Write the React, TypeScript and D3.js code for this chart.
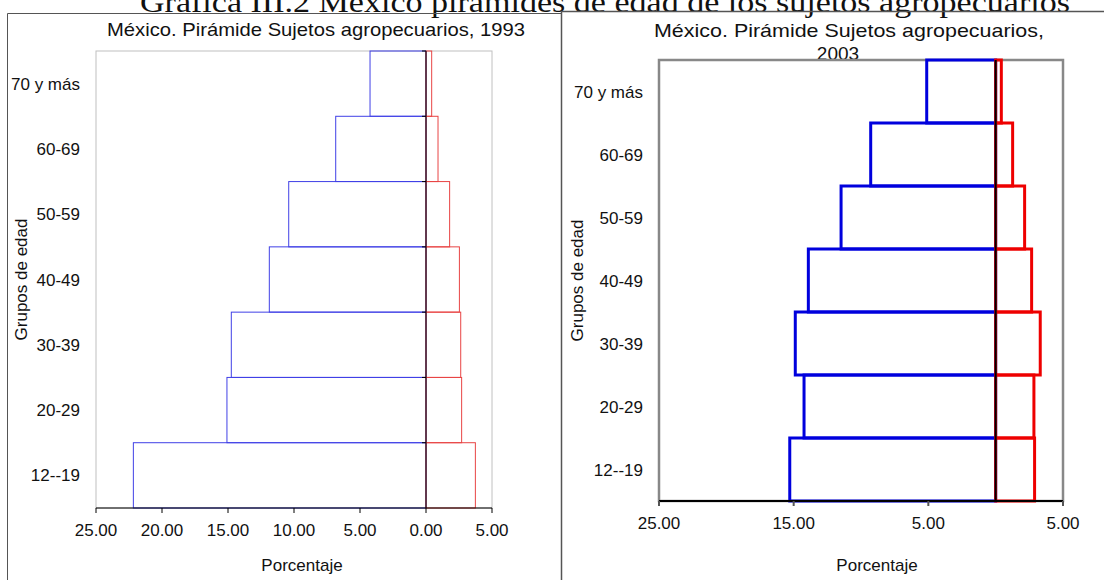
import React from "react";
import * as d3 from "d3";

const categories = ["12--19", "20-29", "30-39", "40-49", "50-59", "60-69", "70 y más"];
const hombres1993 = [22.17, 15.08, 14.75, 11.87, 10.4, 6.84, 4.24];
const mujeres1993 = [3.74, 2.7, 2.63, 2.53, 1.79, 0.91, 0.43];
const hombres2003 = [15.29, 14.23, 14.88, 13.91, 11.48, 9.28, 5.12];
const mujeres2003 = [2.89, 2.84, 3.31, 2.67, 2.15, 1.26, 0.42];
const ticks1993 = [-25, -20, -15, -10, -5, 0, 5];
const ticks2003 = [-25, -15, -5, 5];

const SANS = "'Liberation Sans', Arial, sans-serif";

type PanelProps = {
  x0: number; x1: number; y0: number; y1: number;
  men: number[]; women: number[]; ticks: number[];
  blue: string; red: string; sw: number;
  frame: string; frameW: number; axisW: number; zeroW: number; tickColor: string;
  labelX: number; gruposX: number; tickY: number; porcX: number;
  zeroTicks: boolean;
};

function Panel(p: PanelProps) {
  const x = d3.scaleLinear().domain([-25, 5]).range([p.x0, p.x1]);
  const y = d3.scaleBand<string>().domain([...categories].reverse()).range([p.y0, p.y1]).padding(0);
  const bw = y.bandwidth();
  const zx = x(0);
  const fmt = (v: number) => Math.abs(v).toFixed(2);
  return (
    <g>
      <rect x={p.x0} y={p.y0} width={p.x1 - p.x0} height={p.y1 - p.y0} fill="none" stroke={p.frame} strokeWidth={p.frameW} />
      {categories.map((c, i) => (
        <g key={c}>
          <rect x={x(-p.men[i])} y={y(c)!} width={zx - x(-p.men[i])} height={bw} fill="none" stroke={p.blue} strokeWidth={p.sw} />
          <rect x={zx} y={y(c)!} width={x(p.women[i]) - zx} height={bw} fill="none" stroke={p.red} strokeWidth={p.sw} />
        </g>
      ))}
      {p.zeroTicks && categories.map((c) => (
        <line key={"zt" + c} x1={zx - 4} x2={zx} y1={y(c)!} y2={y(c)!} stroke="black" strokeWidth={1} />
      ))}
      <line x1={zx} x2={zx} y1={p.y0} y2={p.y1} stroke="black" strokeWidth={p.zeroW} />
      <line x1={p.x0} x2={p.x1} y1={p.y1} y2={p.y1} stroke="black" strokeWidth={p.axisW} />
      {p.ticks.map((t) => (
        <g key={"t" + t}>
          <line x1={x(t)} x2={x(t)} y1={p.y1} y2={p.y1 + 5} stroke={p.tickColor} strokeWidth={p.axisW} />
          <text x={x(t)} y={p.tickY} textAnchor="middle" fontFamily={SANS} fontSize={17} fill="#111">{fmt(t)}</text>
        </g>
      ))}
      {categories.map((c) => (
        <text key={"l" + c} x={p.labelX} y={y(c)! + bw / 2 + 6} textAnchor="end" fontFamily={SANS} fontSize={17} fill="#111">{c}</text>
      ))}
      <text transform={`translate(${p.gruposX},${(p.y0 + p.y1) / 2}) rotate(-90)`} textAnchor="middle" fontFamily={SANS} fontSize={17} fill="#111">Grupos de edad</text>
      <text x={p.porcX} y={571} textAnchor="middle" fontFamily={SANS} fontSize={17} fill="#111">Porcentaje</text>
    </g>
  );
}

export default function App() {
  return (
    <svg width={1104} height={580} style={{ position: "absolute", left: 0, top: 0, background: "white" }}>
      <rect x={0} y={0} width={1104} height={580} fill="white" />
      <text x={605} y={12} textAnchor="middle" fontFamily="'Liberation Serif', 'DejaVu Serif', serif" fontSize={29} textLength={930} lengthAdjust="spacingAndGlyphs" fill="#111">
        Gráfica III.2 México pirámides de edad de los sujetos agropecuarios
      </text>
      <path d="M7.5,580 V13.5 H562" fill="none" stroke="#555" strokeWidth={1} />
      <path d="M561.5,580 V11.5 H1104" fill="none" stroke="#555" strokeWidth={1.5} />
      <text x={316} y={36} textAnchor="middle" fontFamily={SANS} fontSize={19} textLength={418} lengthAdjust="spacingAndGlyphs" fill="#111">México. Pirámide Sujetos agropecuarios, 1993</text>
      <text x={849} y={37} textAnchor="middle" fontFamily={SANS} fontSize={19} textLength={390} lengthAdjust="spacingAndGlyphs" fill="#111">México. Pirámide Sujetos agropecuarios,</text>
      <text x={838} y={59.5} textAnchor="middle" fontFamily={SANS} fontSize={19} fill="#111">2003</text>
      <Panel x0={96} x1={492} y0={51} y1={508} men={hombres1993} women={mujeres1993} ticks={ticks1993}
        blue="#4040e6" red="#e84444" sw={1} frame="#c0c0c0" frameW={1} axisW={1} zeroW={1} tickColor="black"
        labelX={80} gruposX={27} tickY={536} porcX={302} zeroTicks={true} />
      <Panel x0={659} x1={1063} y0={60} y1={501} men={hombres2003} women={mujeres2003} ticks={ticks2003}
        blue="#0000dd" red="#ee0000" sw={3} frame="#888" frameW={2.5} axisW={2} zeroW={2} tickColor="#555"
        labelX={643} gruposX={583} tickY={529} porcX={877} zeroTicks={false} />
    </svg>
  );
}
